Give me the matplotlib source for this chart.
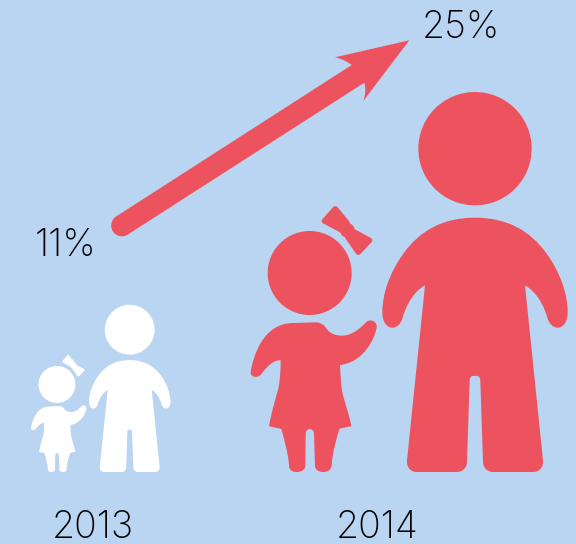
import matplotlib
matplotlib.use('Agg')
import matplotlib.pyplot as plt
from matplotlib.path import Path
from matplotlib.patches import PathPatch, Circle, Polygon

years = ['2013', '2014']
shares = [11, 25]
share_labels = ['11%', '25%']

BG = '#BAD5F1'
RED = '#ED535E'
WHITE = '#FFFFFF'
icon_colors = [WHITE, RED]
# x of the adult's centre line and of the baseline, in canvas pixels
icon_x = [129.7, 475]
BASE_Y = 472


def outline(start, segments):
    # segments hold one point for a line, three for a cubic curve
    verts = [start]
    codes = [Path.MOVETO]
    for seg in segments:
        verts.extend(seg)
        codes.extend([Path.LINETO] if len(seg) == 1 else [Path.CURVE4] * 3)
    verts.append(start)
    codes.append(Path.CLOSEPOLY)
    return verts, codes


def mirrored(points, axis):
    return [(2 * axis - x, y) for x, y in points]


# left half of the adult, top of the shoulders down to the crotch
adult_left = [
    ((610, 82), (540, 120), (490, 190)),
    ((450, 245), (427, 310), (427, 365)),
    ((427, 395), (440, 412), (457, 412)),
    ((472, 412), (482, 400), (487, 385)),
    ((498, 345), (520, 305), (555, 285)),
    ((501, 810),),
    ((499, 832), (513, 845), (530, 845)),
    ((650, 845),),
    ((668, 845), (681, 832), (681, 815)),
    ((689, 572),),
    ((689, 552), (705, 557), (705, 557)),
]


def adult_outline():
    axis = 705
    top = (axis, 82)
    right = []
    points = [top]
    for seg in adult_left:
        points.extend(seg)
    # walk the same segments back on the other side
    idx = len(points) - 1
    for seg in reversed(adult_left):
        n = len(seg)
        back = points[idx - n:idx]
        right.append(tuple(mirrored(list(reversed(back)), axis)))
        idx -= n
    return outline(top, adult_left + right)


girl_segments = [
    ((230, 396),),
    ((248, 398), (255, 408), (262, 418)),
    ((275, 435), (305, 440), (325, 433)),
    ((345, 427), (365, 410), (378, 396)),
    ((390, 384), (412, 392), (410, 412)),
    ((405, 440), (375, 515), (300, 524)),
    ((302, 560), (303, 590), (308, 610)),
    ((315, 640), (330, 680), (334, 708)),
    ((320, 710), (310, 712), (298, 716)),
    ((290, 745), (278, 780), (275, 825)),
    ((274, 838), (264, 845), (250, 845)),
    ((235, 845), (225, 838), (225, 825)),
    ((222, 730),),
    ((222, 712), (197, 712), (197, 730)),
    ((196, 825),),
    ((196, 838), (186, 845), (170, 845)),
    ((155, 845), (147, 838), (147, 825)),
    ((145, 790), (132, 745), (124, 716)),
    ((110, 712), (100, 711), (87, 708)),
    ((92, 675), (105, 630), (115, 595)),
    ((120, 570), (122, 540), (122, 510)),
    ((100, 508), (80, 530), (65, 550)),
    ((55, 565), (30, 562), (32, 545)),
    ((40, 495), (70, 398), (160, 398)),
]

bow_left = [(304, 119), (253, 92), (286, 55), (322, 99)]
bow_right = [(341, 124), (389, 150), (355, 186), (323, 140)]


def draw_family(ax, x0, scale, color):
    # icon outlines are drawn at 3 units per pixel at full size
    def tx(p):
        return (x0 + (p[0] - 705) / 3 * scale, BASE_Y - (845 - p[1]) / 3 * scale)

    def r(v):
        return v / 3 * scale

    ax.add_patch(Circle(tx((705, -125)), r(170), fc=color, ec='none'))
    ax.add_patch(Circle(tx((209, 248)), r(126), fc=color, ec='none'))
    ax.add_patch(Circle(tx((322, 120)), r(22), fc=color, ec='none'))

    for verts, codes in [adult_outline(), outline((160, 398), girl_segments)]:
        path = Path([tx(v) for v in verts], codes)
        ax.add_patch(PathPatch(path, fc=color, ec='none'))

    corner = r(8) * 2 * 0.72
    for wing in (bow_left, bow_right):
        ax.add_patch(Polygon([tx(p) for p in wing], closed=True, fc=color, ec=color,
                             lw=corner, joinstyle='round'))


fig = plt.figure(figsize=(5.76, 5.44), dpi=100, facecolor=BG)
ax = fig.add_axes([0, 0, 1, 1])
ax.set_xlim(0, 576)
ax.set_ylim(544, 0)
ax.axis('off')

for x0, share, color in zip(icon_x, shares, icon_colors):
    draw_family(ax, x0, share / max(shares), color)

# rising arrow between the two shares
arrow_verts, arrow_codes = outline((409.3, 40.3), [
    ((363.3, 101),),
    ((365.5, 95), (366, 88), (364.3, 82.7)),
    ((127.9, 234.5),),
    ((116.1, 216.5),),
    ((351.7, 65),),
    ((346, 61), (341, 58.5), (335, 57.3)),
])
ax.add_patch(PathPatch(Path(arrow_verts, arrow_codes), fc=RED, ec='none'))
ax.add_patch(Circle((122, 225.5), 10.8, fc=RED, ec='none'))

FONT = 'Inter'
TEXT_SIZE = 27
ax.text(66, 256, share_labels[0], fontsize=TEXT_SIZE, family=FONT, weight='light',
        color='black', ha='center', va='baseline')
ax.text(461, 38.3, share_labels[1], fontsize=TEXT_SIZE, family=FONT, weight='light',
        color='black', ha='center', va='baseline')
ax.text(93, 538.3, years[0], fontsize=TEXT_SIZE, family=FONT, weight='light',
        color='black', ha='center', va='baseline')
ax.text(376.7, 538.3, years[1], fontsize=TEXT_SIZE, family=FONT, weight='light',
        color='black', ha='center', va='baseline')

fig.savefig('out.png', dpi=100, facecolor=BG)
